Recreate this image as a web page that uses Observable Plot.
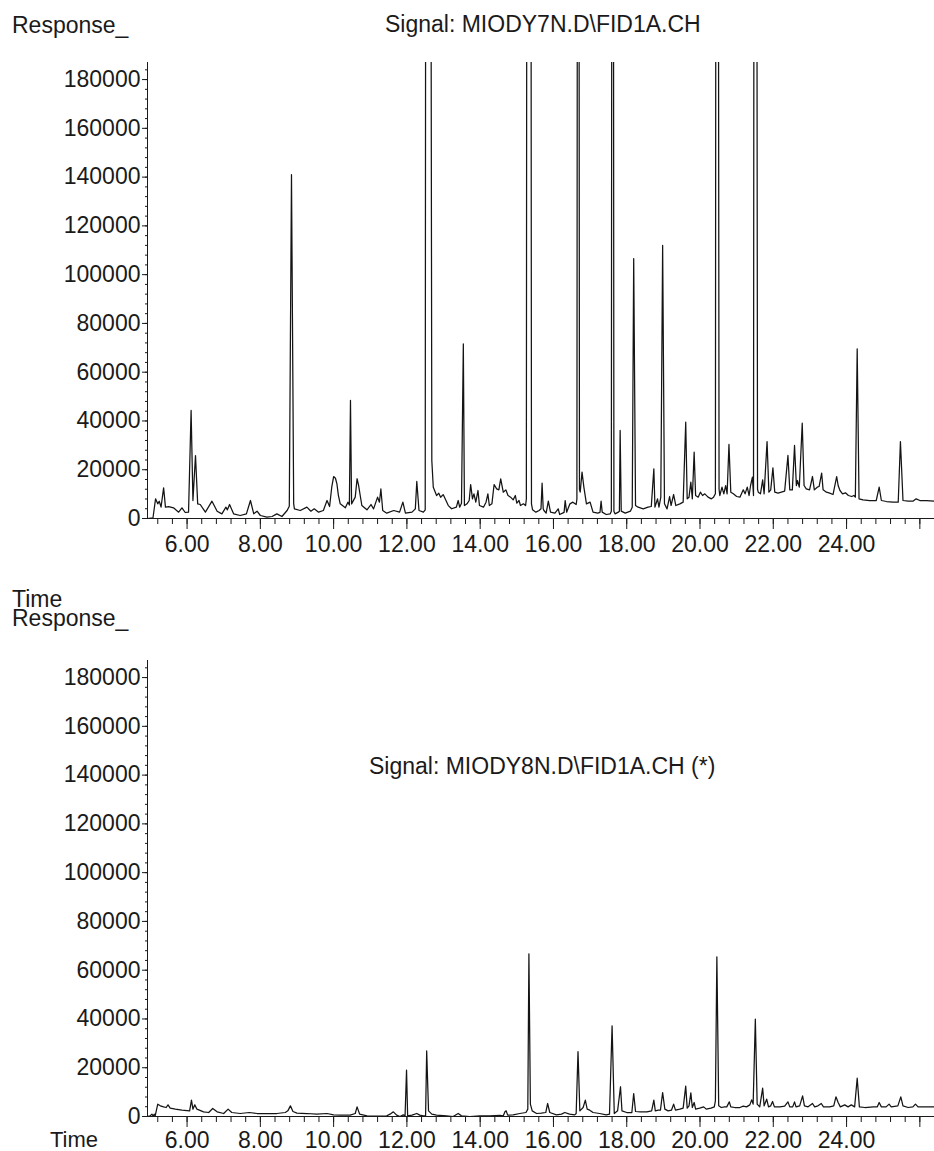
<!DOCTYPE html>
<html><head><meta charset="utf-8">
<script src="https://cdn.jsdelivr.net/npm/d3@7"></script>
<script src="https://cdn.jsdelivr.net/npm/@observablehq/plot@0.6"></script>
<style>
body{margin:0;background:#fff;font-family:"Liberation Sans",Arial,sans-serif;}
#wrap{position:relative;width:934px;height:1151px;overflow:hidden;background:#fff;}
#wrap svg{position:absolute;left:0;}
.lbl{position:absolute;color:#1a1a1a;white-space:nowrap;line-height:0.7;z-index:2;}
</style></head><body><div id="wrap"></div>
<script>
// ---- data (time in minutes, response in counts) ----
const xDomain = [4.92, 26.4];
const yDomain = [0, 187000];
const yTicks = [0, 20000, 40000, 60000, 80000, 100000, 120000, 140000, 160000, 180000];
const yMinor = d3.range(4000, 187000, 4000);
const xMajor = [6, 8, 10, 12, 14, 16, 18, 20, 22, 24, 26];
const xMinor = d3.range(5.2, 26.4, 0.4);

const topTitle = "Signal: MIODY7N.D\\FID1A.CH";
const bottomTitle = "Signal: MIODY8N.D\\FID1A.CH (*)";

// off-scale peaks use 400000 (clipped at the frame top)
const topSignal = [
[4.91,0],[5.07,300],[5.14,8070],[5.20,6000],[5.24,7100],[5.29,4650],[5.36,12600],[5.41,4650],[5.50,4900],
[5.63,4370],[5.77,2600],[5.86,4370],[5.95,2460],[6.04,2600],[6.11,44300],[6.16,7380],[6.23,25800],[6.29,6000],
[6.36,5740],[6.50,2600],[6.68,7100],[6.82,3000],[6.95,1910],[7.06,4650],[7.10,3550],[7.16,5740],[7.27,1910],
[7.45,1230],[7.62,1910],[7.73,7380],[7.82,1910],[7.91,3000],[8.00,1230],[8.18,550],[8.32,820],[8.45,1910],
[8.59,820],[8.73,3280],[8.79,5000],[8.85,141000],[8.91,6000],[8.93,3960],[9.09,3280],[9.27,4650],[9.38,3000],
[9.47,3960],[9.59,2600],[9.72,3280],[9.82,7380],[9.89,4920],[9.95,13000],[10.00,17200],[10.05,16500],[10.09,14200],
[10.13,9500],[10.18,6000],[10.32,4370],[10.39,6700],[10.43,5500],[10.46,48400],[10.49,6000],[10.59,8750],
[10.64,16300],[10.68,13670],[10.77,5330],[10.91,3550],[11.02,5740],[11.09,3960],[11.20,8750],[11.25,6700],
[11.29,12100],[11.34,3280],[11.45,2190],[11.64,3280],[11.80,2600],[11.89,6700],[11.96,2190],[12.14,2600],
[12.23,3960],[12.27,15200],[12.33,3280],[12.45,2600],[12.50,3500],[12.52,400000],[12.64,400000],[12.68,23800],
[12.72,12800],[12.81,9400],[12.87,10400],[12.92,8700],[12.99,9800],[13.06,7600],[13.13,5300],[13.22,4000],
[13.35,4650],[13.40,7380],[13.44,4650],[13.49,6290],[13.54,71600],[13.57,5330],[13.64,6015],[13.70,7380],
[13.74,13940],[13.79,8070],[13.83,10120],[13.88,6700],[13.94,11480],[13.98,5330],[14.09,4650],[14.16,6700],
[14.21,10120],[14.25,5330],[14.32,6015],[14.38,13940],[14.45,12170],[14.51,11750],[14.56,16270],[14.63,10800],
[14.70,11750],[14.76,9430],[14.83,8750],[14.90,7650],[14.96,9430],[15.00,6290],[15.06,7380],[15.10,5330],
[15.18,6015],[15.24,5330],[15.26,8000],[15.28,400000],[15.38,400000],[15.40,6000],[15.43,3550],[15.52,2600],
[15.61,3280],[15.66,4000],[15.69,14480],[15.72,4000],[15.74,3280],[15.80,2190],[15.86,7100],[15.92,2600],
[16.04,2190],[16.13,3960],[16.17,1640],[16.29,2500],[16.32,7380],[16.36,2600],[16.45,6015],[16.53,6700],
[16.62,5740],[16.64,8000],[16.66,400000],[16.69,400000],[16.71,12000],[16.73,10800],[16.78,19000],[16.83,12850],
[16.90,6015],[17.00,6700],[17.08,2600],[17.21,2190],[17.27,2500],[17.30,7100],[17.33,2600],[17.44,1640],
[17.55,1910],[17.58,3000],[17.60,400000],[17.63,400000],[17.65,3000],[17.68,1910],[17.77,2600],[17.80,3000],
[17.82,36100],[17.85,3000],[17.96,2190],[18.10,3000],[18.15,4650],[18.19,106600],[18.24,5330],[18.31,4650],
[18.45,3960],[18.58,4650],[18.67,4920],[18.74,20370],[18.77,4650],[18.84,8070],[18.88,4650],[18.93,8750],
[18.98,112000],[19.03,6015],[19.10,3960],[19.17,9020],[19.21,5330],[19.28,9840],[19.34,5330],[19.45,6015],
[19.54,6700],[19.61,39500],[19.65,8070],[19.70,8750],[19.75,14900],[19.79,8070],[19.84,27200],[19.88,9430],
[19.95,8750],[20.01,10800],[20.07,9430],[20.13,10120],[20.22,8750],[20.31,8070],[20.37,8750],[20.42,10120],
[20.44,400000],[20.49,400000],[20.52,12000],[20.54,9430],[20.60,12850],[20.65,10120],[20.70,13500],[20.74,10120],
[20.79,30350],[20.84,10800],[20.91,10120],[21.00,9020],[21.09,8750],[21.18,11750],[21.23,10120],[21.29,12850],
[21.34,9430],[21.38,13530],[21.43,16950],[21.46,9430],[21.48,400000],[21.54,400000],[21.57,12000],[21.59,10800],
[21.65,10120],[21.71,15850],[21.75,10120],[21.83,31570],[21.88,10800],[21.93,11750],[21.99,20780],[22.04,10800],
[22.13,10390],[22.22,10800],[22.31,11210],[22.40,25840],[22.45,11750],[22.52,11750],[22.58,29940],[22.63,13530],
[22.66,15580],[22.71,12850],[22.79,39100],[22.84,13530],[22.90,12170],[22.99,11750],[23.07,17220],[23.12,11750],
[23.20,12850],[23.25,13120],[23.32,18590],[23.36,11750],[23.45,10800],[23.54,10390],[23.63,9840],[23.73,17220],
[23.77,13530],[23.82,11480],[23.89,10120],[23.97,10530],[24.05,9430],[24.14,9020],[24.20,9430],[24.24,8750],
[24.29,69600],[24.34,8070],[24.45,7650],[24.63,7380],[24.81,7380],[24.89,12850],[24.95,7380],[25.09,6970],
[25.27,6700],[25.41,6700],[25.47,31570],[25.54,7380],[25.68,7100],[25.81,7100],[25.90,8070],[26.00,7380],
[26.18,7380],[26.40,7100]
];

const bottomSignal = [
[4.91,0],[4.99,270],[5.04,960],[5.08,0],[5.10,960],[5.13,270],[5.20,5060],[5.27,4370],[5.36,3960],[5.43,3690],
[5.48,4780],[5.54,3420],[5.68,3010],[5.86,2600],[6.07,2320],[6.12,6700],[6.16,3010],[6.21,4780],[6.27,3010],
[6.45,1910],[6.59,1640],[6.70,3280],[6.82,1910],[7.00,1230],[7.12,3010],[7.22,1640],[7.45,1230],[7.70,1640],
[7.91,1230],[8.18,1230],[8.45,1230],[8.68,1640],[8.75,2320],[8.82,4370],[8.89,2050],[9.00,1370],[9.27,1230],
[9.54,960],[9.82,1230],[10.00,680],[10.18,550],[10.45,550],[10.59,1230],[10.64,3960],[10.71,960],[10.91,270],
[11.18,140],[11.45,270],[11.54,960],[11.63,1910],[11.72,550],[11.81,0],[11.90,680],[11.95,270],[11.99,19000],
[12.02,270],[12.14,550],[12.27,1230],[12.35,550],[12.45,270],[12.51,300],[12.54,26900],[12.59,2320],[12.68,960],
[12.81,550],[13.08,270],[13.26,0],[13.40,1230],[13.49,270],[13.72,0],[13.99,270],[14.26,270],[14.54,500],
[14.63,270],[14.68,2000],[14.71,2320],[14.75,550],[14.90,680],[15.08,1230],[15.25,1640],[15.30,3010],[15.33,66700],
[15.37,5060],[15.42,2320],[15.54,1230],[15.67,1370],[15.79,1640],[15.84,5330],[15.90,1640],[16.08,680],[16.22,960],
[16.31,1640],[16.44,960],[16.58,680],[16.62,1230],[16.67,26650],[16.72,2320],[16.81,3690],[16.87,6700],[16.92,3010],
[16.99,2600],[17.08,1640],[17.26,1230],[17.44,680],[17.53,960],[17.60,37180],[17.66,1230],[17.75,2320],[17.83,12200],
[17.87,2320],[18.00,1640],[18.14,1640],[18.19,9430],[18.24,2050],[18.37,1910],[18.55,1910],[18.68,2320],[18.74,6700],
[18.78,2320],[18.86,2600],[18.92,2600],[18.98,9840],[19.04,3010],[19.13,2320],[19.22,2600],[19.28,5060],[19.33,2600],
[19.45,3010],[19.54,3420],[19.61,12440],[19.65,3420],[19.70,4370],[19.75,9700],[19.79,3690],[19.84,5740],[19.88,3010],
[19.99,3420],[20.10,3960],[20.17,3010],[20.30,3420],[20.39,3960],[20.42,6430],[20.46,65500],[20.51,4370],[20.58,3690],
[20.67,3960],[20.73,3960],[20.80,6000],[20.84,3960],[20.95,3690],[21.09,3690],[21.18,4230],[21.27,3960],[21.36,4780],
[21.41,6830],[21.45,5060],[21.51,39900],[21.56,5060],[21.63,3960],[21.71,11600],[21.75,4370],[21.82,7100],[21.87,3960],
[21.93,4370],[21.98,6150],[22.03,3960],[22.18,3960],[22.31,4230],[22.40,6000],[22.45,3960],[22.53,3960],[22.58,6000],
[22.62,3960],[22.72,4370],[22.80,8470],[22.85,4370],[22.95,3960],[23.07,5330],[23.13,3960],[23.22,4370],[23.31,5330],
[23.37,3960],[23.54,3960],[23.65,4370],[23.71,8070],[23.77,5740],[23.83,3960],[23.95,4780],[24.04,3960],[24.13,4780],
[24.22,3960],[24.29,15700],[24.35,3960],[24.50,3690],[24.73,3960],[24.84,3960],[24.89,5740],[24.95,3960],[25.08,3960],
[25.16,5060],[25.22,3960],[25.40,4370],[25.48,8070],[25.54,4370],[25.68,3690],[25.81,3960],[25.88,5060],[25.95,3960],
[26.18,3960],[26.40,3960]
];

// ---- drawing ----
const font = "'Liberation Sans', Arial, Helvetica, sans-serif";

function chromatogram(series, height, marginTop, marginBottom, xPad) {
  return Plot.plot({
    width: 934, height, marginTop, marginBottom, marginLeft: 147, marginRight: 0,
    style: {fontFamily: font, fontSize: "23px", color: "#1a1a1a", background: "transparent", overflow: "visible"},
    x: {domain: xDomain, label: null},
    y: {domain: yDomain, label: null},
    marks: [
      Plot.axisY({ticks: yMinor, tickSize: 2, tickFormat: () => "", label: null}),
      Plot.axisY({ticks: yTicks, tickSize: 5, tickPadding: 2, tickFormat: d => String(d), label: null}),
      Plot.axisX({ticks: xMinor, tickSize: 6, tickFormat: () => "", label: null}),
      Plot.axisX({ticks: xMajor, tickSize: 11, tickPadding: xPad, tickFormat: d => d === 26 ? "" : d.toFixed(2), label: null}),
      Plot.ruleX([xDomain[0]], {stroke: "#1a1a1a"}),
      Plot.ruleY([0], {stroke: "#1a1a1a"}),
      Plot.line(series, {x: d => d[0], y: d => d[1], stroke: "#141414", strokeWidth: 1.25, clip: true})
    ]
  });
}

const wrap = document.getElementById("wrap");
const top1 = chromatogram(topSignal, 560, 62, 42, 6);
top1.style.top = "0px";
wrap.appendChild(top1);
const bot = chromatogram(bottomSignal, 551, 60, 35, 4);
bot.style.top = "600px";
wrap.appendChild(bot);

function label(text, x, baseline, size) {
  const d = document.createElement("div");
  d.className = "lbl";
  d.textContent = text;
  d.style.fontSize = size + "px";
  d.style.left = x + "px";
  // baseline offset for Liberation Sans with line-height 0.7
  d.style.top = (baseline - size * 0.6965) + "px";
  wrap.appendChild(d);
}
label("Response_", 12, 33, 23);
label(topTitle, 385, 32, 23);
label("Time", 12, 607, 23);
label("Response_", 12, 626, 23);
label(bottomTitle, 369, 774, 23);
label("Time", 50, 1147, 22);
</script>
</body></html>
